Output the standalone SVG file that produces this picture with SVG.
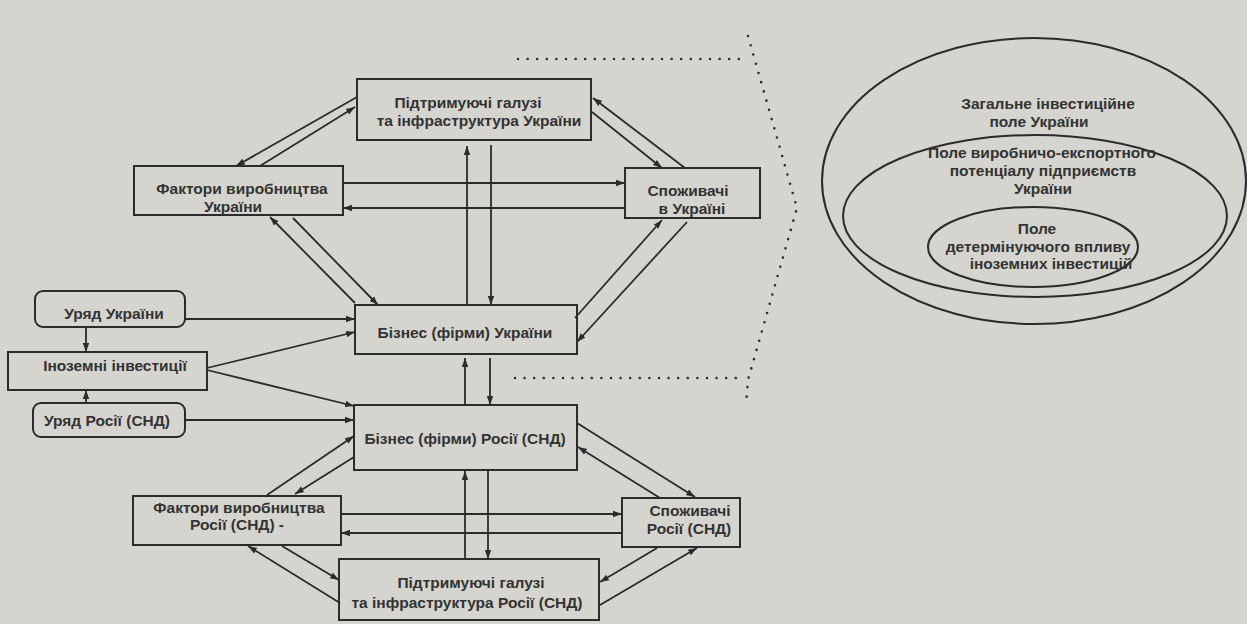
<svg xmlns="http://www.w3.org/2000/svg" width="1247" height="624" viewBox="0 0 1247 624">
<style>
.bg{fill:#d5d4ce}
.box{fill:none;stroke:#2b2b2b;stroke-width:2}
.ell{fill:none;stroke:#2b2b2b;stroke-width:2}
.t{font-family:"Liberation Sans",Arial,sans-serif;font-weight:bold;font-size:15.5px;fill:#333;text-anchor:middle;dominant-baseline:central}
.c{stroke:#2b2b2b;stroke-width:1.8;fill:none;marker-end:url(#ah)}
.dot{stroke:#2b2b2b;stroke-width:2.6;fill:none;stroke-linecap:round;stroke-dasharray:0 9.6}
</style>
<defs>
<marker id="ah" markerUnits="userSpaceOnUse" markerWidth="10" markerHeight="8" refX="9" refY="4" orient="auto">
<path d="M0,0.8 L9,4 L0,7.2 Z" fill="#2b2b2b"/>
</marker>
</defs>
<rect class="bg" x="0" y="0" width="1247" height="624"/>

<g id="connectors">
<path class="c" d="M357,97 L236,166"/>
<path class="c" d="M260,166 L355,107"/>
<path class="c" d="M685,168 L593,98"/>
<path class="c" d="M592,112 L662,168"/>
<path class="c" d="M343,183 L625,183"/>
<path class="c" d="M625,208 L343,208"/>
<path class="c" d="M467,305 L467,146"/>
<path class="c" d="M491,145 L491,305"/>
<path class="c" d="M355,303 L270,217"/>
<path class="c" d="M293,218 L378,305"/>
<path class="c" d="M575,318 L662,220"/>
<path class="c" d="M687,222 L577,342"/>
<path class="c" d="M185,319 L355,319"/>
<path class="c" d="M207,368 L355,332"/>
<path class="c" d="M207,370 L354,406"/>
<path class="c" d="M185,420 L354,420"/>
<path class="c" d="M86,327 L86,352"/>
<path class="c" d="M86,403 L86,390"/>
<path class="c" d="M465,405 L465,358"/>
<path class="c" d="M490,358 L490,405"/>
<path class="c" d="M267,495 L354,436"/>
<path class="c" d="M354,457 L295,494"/>
<path class="c" d="M577,423 L695,497"/>
<path class="c" d="M660,498 L578,447"/>
<path class="c" d="M341,514 L622,514"/>
<path class="c" d="M622,533 L341,533"/>
<path class="c" d="M465,559 L465,471"/>
<path class="c" d="M488,470 L488,559"/>
<path class="c" d="M340,603 L248,546"/>
<path class="c" d="M282,546 L339,580"/>
<path class="c" d="M657,548 L600,582"/>
<path class="c" d="M600,605 L697,548"/>
</g>

<g id="dotted">
<path class="dot" d="M518,59 L747,59"/>
<path class="dot" d="M748,36 L797,208 L748,380 L746,405"/>
<path class="dot" d="M515,378 L745,378"/>
</g>

<g id="ua-support">
<rect class="box" x="357" y="79" width="234" height="61"/>
<text class="t" x="468" y="102">Підтримуючі галузі</text>
<text class="t" x="479" y="120">та інфраструктура України</text>
</g>
<g id="ua-factors">
<rect class="box" x="134" y="166" width="209" height="49"/>
<text class="t" x="242" y="188">Фактори виробництва</text>
<text class="t" x="233" y="206">України</text>
</g>
<g id="ua-consumers">
<rect class="box" x="625" y="168" width="135" height="50"/>
<text class="t" x="688" y="190">Споживачі</text>
<text class="t" x="692" y="208">в Україні</text>
</g>
<g id="ua-business">
<rect class="box" x="355" y="305" width="222" height="49"/>
<text class="t" x="465" y="332">Бізнес (фірми) України</text>
</g>
<g id="ua-gov">
<rect class="box" x="35" y="291" width="150" height="36" rx="8"/>
<text class="t" x="114" y="313">Уряд України</text>
</g>
<g id="foreign-inv">
<rect class="box" x="8" y="352" width="199" height="38"/>
<text class="t" x="115" y="365">Іноземні інвестиції</text>
</g>
<g id="ru-gov">
<rect class="box" x="33" y="403" width="152" height="34" rx="8"/>
<text class="t" x="107" y="420">Уряд Росії (СНД)</text>
</g>
<g id="ru-business">
<rect class="box" x="354" y="405" width="223" height="65"/>
<text class="t" x="465" y="438">Бізнес (фірми) Росії (СНД)</text>
</g>
<g id="ru-factors">
<rect class="box" x="133" y="496" width="208" height="49"/>
<text class="t" x="239" y="507">Фактори виробництва</text>
<text class="t" x="237" y="524">Росії (СНД) -</text>
</g>
<g id="ru-consumers">
<rect class="box" x="622" y="498" width="118" height="49"/>
<text class="t" x="690" y="510">Споживачі</text>
<text class="t" x="689" y="528">Росії (СНД)</text>
</g>
<g id="ru-support">
<rect class="box" x="339" y="559" width="260" height="61"/>
<text class="t" x="471" y="582">Підтримуючі галузі</text>
<text class="t" x="467" y="602">та інфраструктура Росії (СНД)</text>
</g>

<g id="fields">
<ellipse class="ell" cx="1034" cy="181" rx="212" ry="143"/>
<ellipse class="ell" cx="1035" cy="216" rx="192" ry="81"/>
<ellipse class="ell" cx="1033" cy="247" rx="105" ry="40"/>
<text class="t" x="1048" y="103">Загальне інвестиційне</text>
<text class="t" x="1039" y="121">поле України</text>
<text class="t" x="1042" y="152">Поле виробничо-експортного</text>
<text class="t" x="1043" y="170">потенціалу підприємств</text>
<text class="t" x="1043" y="188">України</text>
<text class="t" x="1037" y="228">Поле</text>
<text class="t" x="1038" y="246">детермінуючого впливу</text>
<text class="t" x="1051" y="263">іноземних інвестицій</text>
</g>
</svg>
